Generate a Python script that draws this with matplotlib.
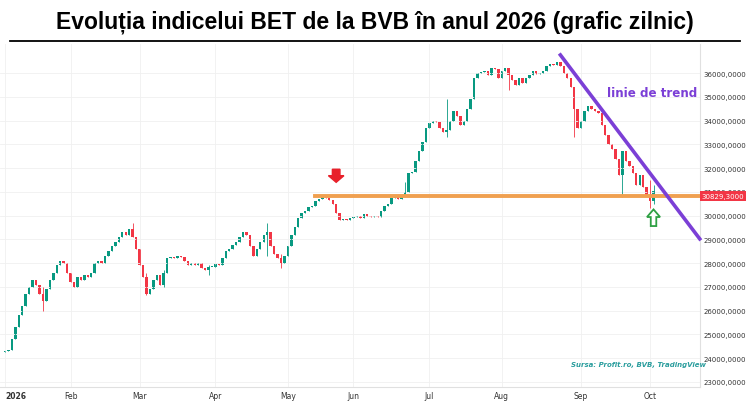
import numpy as np
import matplotlib.pyplot as plt
from matplotlib.patches import FancyArrow

# daily closes of the BET index
closes = [24300, 24350, 24800, 25300, 25800, 26200, 26700, 27000, 27300,
          27100, 26700, 26400, 26900,
          27300, 27600, 27900, 28100, 28000,
          27600, 27200, 27000, 27400,
          27300, 27500, 27400, 27600,
          28000, 28100, 28000, 28300, 28500,
          28700, 28900, 29100, 29300, 29200, 29450,
          29100, 28600, 27900, 27400, 26700,
          26900, 27300, 27500, 27100, 27600,
          28200, 28250, 28200, 28300,
          28250, 28100, 27900, 28000, 27900, 28000, 27800, 27700, 27850, 27850,
          27950, 27900, 28200, 28500,
          28600, 28750, 28900, 29100, 29300, 29200,
          28700, 28300, 28600,
          28900, 29200, 29300, 28700, 28400,
          28200, 28000, 28300, 28700,
          29200, 29500, 29900, 30100,
          30200, 30350, 30400, 30600, 30700, 30800, 30750,
          30650, 30500, 30100, 29800, 29850, 29800, 29900,
          29950, 30000, 29900, 30050, 30000, 29950, 30000, 29950, 30200, 30400,
          30500, 30750, 30800, 30700, 30850, 31000,
          31800, 31850, 32300, 32700, 33100, 33700, 33900, 34000, 33950, 33700,
          33500, 33600, 34000, 34400, 34200, 33800, 34000, 34500, 34900, 35800,
          36000, 36050,
          36100, 35900, 36200, 36150, 35800, 36100, 36200, 35900, 35700, 35500, 35800, 35600,
          35800, 35900, 36100, 35950, 36000, 36100, 36300, 36400, 36350, 36450,
          36300, 36000, 35800, 35400,
          34500, 33700, 34000,
          34400, 34600, 34500, 34400, 34300,
          33800, 33400, 33000, 32800, 32400,
          31700, 32700, 32300, 32100,
          31800, 31300, 31700, 31200,
          30850, 30600, 31050]
first_open = 24250
# a few long wicks: index -> (low, high)
wicks = {11: (26000, 27000), 37: (29100, 29700), 41: (26650, 27600), 46: (27000, 27700),
         59: (27500, 27900), 76: (28300, 29700), 80: (27800, 28400), 116: (31000, 31400),
         128: (33300, 34900), 146: (35300, 36200), 165: (33300, 35400), 179: (30800, 32700),
         187: (30300, 31500), 188: (30500, 31300)}

month_pos = [0, 19, 39, 61, 82, 101, 123, 144, 167, 187]
month_lbl = ['2026', 'Feb', 'Mar', 'Apr', 'May', 'Jun', 'Jul', 'Aug', 'Sep', 'Oct']
yticks = list(range(23000, 37000, 1000))
support = 30829.3
trend_x = [161, 201.4]
trend_y = [36760, 29020]

fig = plt.figure(figsize=(7.5, 4.02), dpi=100)
ax = fig.add_axes([0, 0.035, 0.933, 0.853])

opens = [first_open] + closes[:-1]
for i, (o, c) in enumerate(zip(opens, closes)):
    col = '#089981' if c >= o else '#f23645'
    lo, hi = wicks.get(i, (min(o, c), max(o, c)))
    ax.vlines(i, min(lo, o, c), max(hi, o, c), color=col, lw=0.6)
    ax.bar(i, max(abs(c - o), 30), bottom=min(o, c), width=0.7, color=col, lw=0)

ax.set_xlim(-1.45, 201.4)
ax.set_ylim(22790, 37220)
ax.axhline(support, xmin=(90 + 1.45) / 202.85, xmax=1, color='#f0a050', lw=2.8, zorder=3)
ax.plot(trend_x, trend_y, color='#7b3fd6', lw=2.6, zorder=4, clip_on=False)

# arrows
ax.add_patch(FancyArrow(96, 31950, 0, -550, width=2.2, head_width=4.5, head_length=280,
                        color='#e8202a', length_includes_head=True, zorder=5))
ax.add_patch(FancyArrow(188, 29560, 0, 700, width=1.6, head_width=3.8, head_length=320,
                        facecolor='white', edgecolor='#2ea043', lw=1.3,
                        length_includes_head=True, zorder=5))

ax.text(174.5, 35050, 'linie de trend', color='#7b3fd6', fontsize=8.6, fontweight='bold')
ax.text(164, 23650, 'Sursa: Profit.ro, BVB, TradingView', color='#2a9d9d', fontsize=5.0,
        fontweight='bold', style='italic')

ax.set_xticks(month_pos)
ax.set_xticklabels(month_lbl, fontsize=5.5, color='#333333')
ax.get_xticklabels()[0].set_fontweight('bold')
ax.get_xticklabels()[0].set_horizontalalignment('left')
ax.set_yticks(yticks)
ax.set_yticklabels([f'{v},0000' for v in yticks], fontsize=5, color='#333333')
ax.yaxis.tick_right()
ax.tick_params(length=0, pad=3)
ax.grid(color='#f0f0f0', lw=0.6)
for s in ['top', 'left']:
    ax.spines[s].set_visible(False)
ax.spines['right'].set_color('#e0e0e0')
ax.spines['bottom'].set_color('#e0e0e0')
ax.text(1.003, (support - 22790) / (37220 - 22790), '30829,3000', transform=ax.transAxes,
        fontsize=5, color='white', va='center',
        bbox=dict(boxstyle='square,pad=0.25', fc='#f23645', ec='none'))

fig.text(0.5, 0.945, 'Evoluția indicelui BET de la BVB în anul 2026 (grafic zilnic)',
         ha='center', va='center', fontsize=16.5, fontweight='bold', family='Liberation Sans')
fig.add_artist(plt.Line2D([0.013, 0.987], [0.896, 0.896], color='black', lw=1.3))

fig.savefig('out.png', dpi=100)
